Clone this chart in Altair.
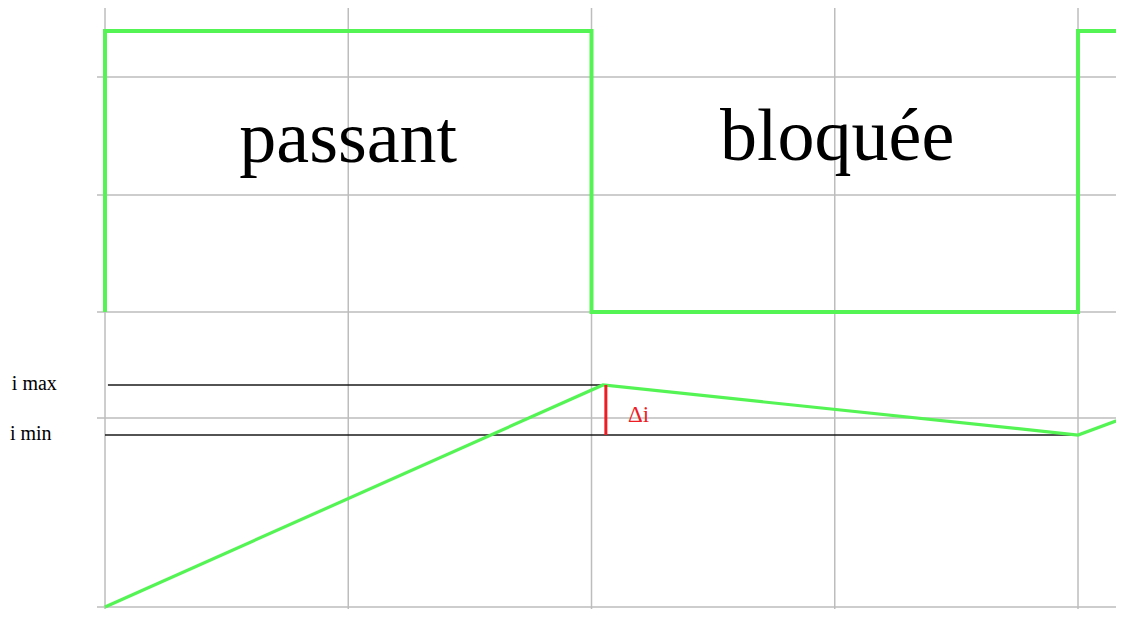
import altair as alt
import pandas as pd

# time axis (periods, gridlines every 1 unit), y in chart units
grid_t = [0, 1, 2, 3, 4]
grid_y = [2, 191, 297, 414, 532]

wave_t = [0, 0, 2, 2, 4, 4, 4.2]
wave_y = [297, 578, 578, 297, 297, 578, 578]

cur_t = [0, 2.047, 4, 4.2]
cur_y = [2, 224, 174, 192]

i_max = 224
i_min = 174
t_peak = 2.047

labels = ["passant", "bloquée"]
label_t = [1.0, 3.01]
label_y = [447, 449]

X0, X1 = -0.3988, 4.1562
xs = alt.Scale(domain=[X0, X1], nice=False, zero=False)
ys = alt.Scale(domain=[0, 601], nice=False, zero=False)

GREEN = "#55f455"

vgrid = alt.Chart(pd.DataFrame({"t": grid_t})).mark_rule(
    color="#bdbdbd", strokeWidth=1.5
).encode(
    x=alt.X("t:Q", scale=xs, axis=None),
    y=alt.value(-1), y2=alt.value(605),
)

hgrid = alt.Chart(pd.DataFrame({"y": grid_y, "t0": [-0.033] * 5, "t1": [X1] * 5})).mark_rule(
    color="#bdbdbd", strokeWidth=1.5
).encode(
    x=alt.X("t0:Q", scale=xs, axis=None), x2="t1:Q",
    y=alt.Y("y:Q", scale=ys, axis=None),
)

lim = alt.Chart(pd.DataFrame({
    "t0": [0.012, 0.0], "t1": [t_peak, 4.0], "y": [i_max, i_min]
})).mark_rule(color="#1a1a1a", strokeWidth=1.3).encode(
    x=alt.X("t0:Q", scale=xs), x2="t1:Q",
    y=alt.Y("y:Q", scale=ys),
)

wave = alt.Chart(pd.DataFrame({"t": wave_t, "y": wave_y, "i": range(len(wave_t))})).mark_line(
    color=GREEN, strokeWidth=4, strokeJoin="miter", clip=True
).encode(
    x=alt.X("t:Q", scale=xs), y=alt.Y("y:Q", scale=ys), order="i:Q"
)

cur = alt.Chart(pd.DataFrame({"t": cur_t, "y": cur_y, "i": range(len(cur_t))})).mark_line(
    color=GREEN, strokeWidth=3.2, clip=True
).encode(
    x=alt.X("t:Q", scale=xs), y=alt.Y("y:Q", scale=ys), order="i:Q"
)

delta = alt.Chart(pd.DataFrame({"t": [t_peak + 0.012], "a": [i_max], "b": [i_min]})).mark_rule(
    color="#ee1c24", strokeWidth=3
).encode(
    x=alt.X("t:Q", scale=xs), y=alt.Y("a:Q", scale=ys), y2="b:Q"
)

delta_txt = alt.Chart(pd.DataFrame({"t": [2.150], "y": [187], "s": ["Δi"]})).mark_text(
    color="#ee1c24", font="Liberation Serif", fontSize=23, align="left", baseline="alphabetic"
).encode(x=alt.X("t:Q", scale=xs), y=alt.Y("y:Q", scale=ys), text="s:N")

big = alt.Chart(pd.DataFrame({"t": label_t, "y": label_y, "s": labels})).mark_text(
    color="black", font="Liberation Serif", fontSize=74, align="center", baseline="alphabetic"
).encode(x=alt.X("t:Q", scale=xs), y=alt.Y("y:Q", scale=ys), text="s:N")

side = alt.Chart(pd.DataFrame({"t": [-0.383, -0.391], "y": [i_max, i_min], "s": ["i max", "i min"]})).mark_text(
    color="black", font="Liberation Serif", fontSize=20, align="left", baseline="alphabetic", dy=4.5
).encode(x=alt.X("t:Q", scale=xs), y=alt.Y("y:Q", scale=ys), text="s:N")

chart = alt.layer(vgrid, hgrid, lim, wave, cur, delta, delta_txt, big, side).properties(
    width=1108, height=601, padding=0, autosize=alt.AutoSizeParams(type="none"),
    background="white"
).configure_view(stroke=None)

chart.save("out.html", embed_options={"renderer": "svg", "actions": False})
